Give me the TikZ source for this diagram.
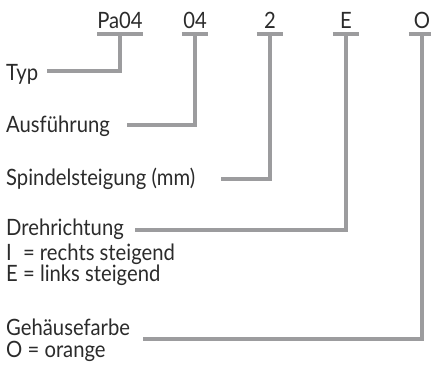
\documentclass[tikz,border=0pt]{standalone}
\usepackage{fontspec}
\setmainfont{Lato}[FakeStretch=0.9]
\definecolor{bargray}{HTML}{9C9C9E}
\definecolor{textgray}{HTML}{2B2B2B}

\begin{document}
\begin{tikzpicture}[x=1pt,y=-1pt,
  code/.style={anchor=base, inner xsep=0pt, minimum width=26pt, text=textgray, font=\fontsize{22.5}{26}\selectfont},
  desc/.style={anchor=base west, inner sep=0pt, text=textgray, font=\fontsize{22.5}{26}\selectfont},
  lead/.style={draw=bargray, line width=4pt}]
\useasboundingbox (0,0) rectangle (431,368);
% code letters on top
\node[code] (pa) at (120,28) {Pa04};
\node[code] (aus) at (195,28) {04};
\node[code] (sp) at (270,28) {2};
\node[code] (dr) at (346,28) {E};
\node[code] (ge) at (422,28) {O};
\foreach \c in {pa,aus,sp,dr,ge}
  \draw[lead] ([yshift=-6pt]\c.base west) -- ([yshift=-6pt]\c.base east);
% descriptions
\node[desc] (typ) at (6,80) {Typ};
\node[desc] (ausf) at (6,132) {Ausführung};
\node[desc] (spin) at (6,185) {Spindelsteigung (mm)};
\node[desc] (dreh) at (6,235) {Drehrichtung};
\node[desc] (rechts) at (6,260) {\rlap{I}\phantom{E} = rechts steigend};
\node[desc] (links) at (6,281) {E = links steigend};
\node[desc] (farbe) at (6,335) {Gehäusefarbe};
\node[desc] (orange) at (6,357) {O = orange};
% leaders, fixed distance from the left edge
\draw[lead] ([yshift=-6pt]pa.base) |- ([xshift=41pt,yshift=9pt]typ.base west);
\draw[lead] ([yshift=-6pt]aus.base) |- ([xshift=121pt,yshift=7pt]ausf.base west);
\draw[lead] ([yshift=-6pt]sp.base) |- ([xshift=215pt,yshift=6pt]spin.base west);
\draw[lead] ([yshift=-6pt]dr.base) |- ([xshift=129pt,yshift=5pt]dreh.base west);
\draw[lead] ([yshift=-6pt]ge.base) |- ([xshift=137pt,yshift=-4pt]farbe.base west);
\end{tikzpicture}
\end{document}
